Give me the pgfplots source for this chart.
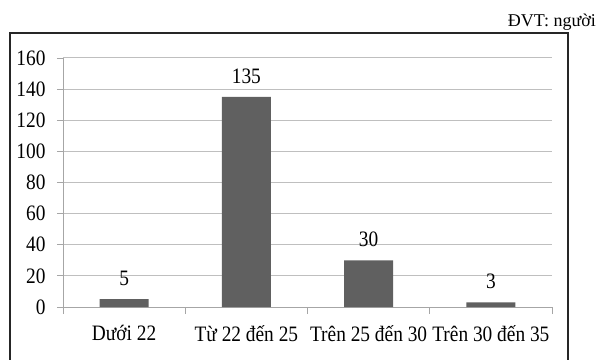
\documentclass[border=0pt]{standalone}
\usepackage{fontspec}
\usepackage{pgfplots}
\pgfplotsset{compat=1.18}
\setmainfont{Liberation Serif}[FakeStretch=0.88]
\newfontfamily\unitfont{Liberation Serif}
\definecolor{barfill}{HTML}{606060}
\definecolor{gridc}{HTML}{BFBFBF}
\definecolor{axisc}{HTML}{A6A6A6}

\begin{document}
\begin{tikzpicture}[x=1pt,y=1pt]
\begin{axis}[
  scale only axis, width=489pt, height=249pt,
  xmin=-0.5, xmax=3.5, ymin=0, ymax=160,
  ytick={0,20,...,160},
  xtick={0,1,2,3},
  xticklabels={Dưới 22, Từ 22 đến 25, Trên 25 đến 30, Trên 30 đến 35},
  minor xtick={-0.5,0.5,1.5,2.5,3.5},
  axis x line*=bottom, axis y line*=left,
  axis line style={axisc, line width=0.8pt, -},
  tick align=outside,
  major tick length=6pt, minor tick length=7pt,
  x tick style={draw=none},
  minor x tick style={draw=axisc, line width=0.8pt},
  y tick style={draw=axisc, line width=0.8pt},
  ymajorgrids, major grid style={gridc, line width=1pt},
  /pgf/number format/assume math mode=true,
  tick label style={font=\fontsize{22}{22}\selectfont},
  xticklabel style={yshift=-9pt},
  yticklabel style={xshift=-8pt},
  ybar, bar width=49pt,
  nodes near coords,
  every node near coord/.append style={font=\fontsize{22}{22}\selectfont, yshift=10pt},
  clip=false,
]
\addplot[fill=barfill, draw=none] coordinates {(0,5) (1,135) (2,30) (3,3)};
\coordinate (O) at (rel axis cs:0,0);
\end{axis}
\begin{scope}[shift={(O)}]
  % outer frame of the chart
  \draw[line width=1.4pt, black!85] (-53,-60) rectangle (505,274);
  % unit note
  \node[anchor=base east, inner sep=0pt, font=\unitfont\fontsize{18}{18}\selectfont] at (533,280) {ĐVT: người};
  \pgfresetboundingbox
  \path[use as bounding box] (-63,-52) rectangle (542,307);
\end{scope}
\end{tikzpicture}
\end{document}
